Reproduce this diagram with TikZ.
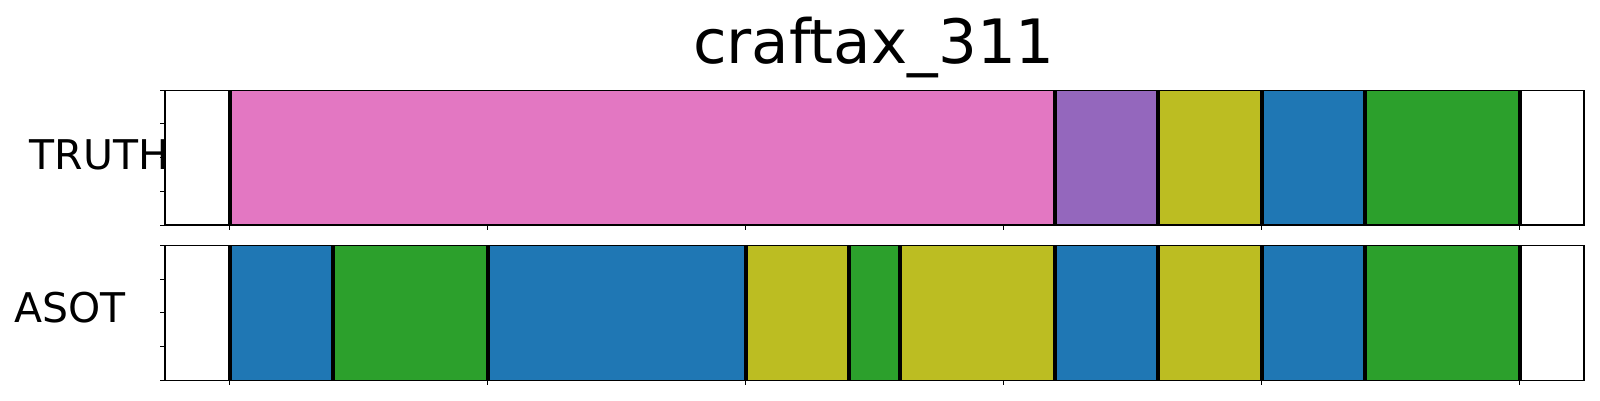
\documentclass[tikz,border=0pt]{standalone}
\usepackage{fontspec}
\setmainfont{DejaVu Sans}
\usepackage{tikz}

\begin{document}
\begin{tikzpicture}[every node/.style={inner sep=0pt},
    spine/.style={black, line width=0.015cm},
    tickmark/.style={black, line width=0.01cm},
    segedge/.style={black, line width=0.04cm}]
  % Colors
  \definecolor{segpink}{HTML}{E377C2}
  \definecolor{segpurple}{HTML}{9467BD}
  \definecolor{segolive}{HTML}{BCBD22}
  \definecolor{segblue}{HTML}{1F77B4}
  \definecolor{seggreen}{HTML}{2CA02C}

  \useasboundingbox (0,0) rectangle (16,4);

  % Title
  \node[anchor=base, font=\fontsize{17.4}{20}\selectfont] (title) at (8.74,3.37) {craftax\_311};

  % Row labels
  \node[anchor=base west, font=\fontsize{11.65}{14}\selectfont] (truthlabel) at (0.29,2.307) {TRUTH};
  \node[anchor=base west, font=\fontsize{11.65}{14}\selectfont] (asotlabel) at (0.14,0.773) {ASOT};

  % Ground truth segments
  \begin{scope}[xshift=2.295cm, x=0.0258cm]
    \foreach \a/\b/\c in {0/320/segpink, 320/360/segpurple, 360/400/segolive,
                          400/440/segblue, 440/500/seggreen} {
      \fill[\c] (\a,1.75) rectangle (\b,3.097);
    }
    \foreach \a in {0,320,360,400,440,500} {
      \draw[segedge] (\a,1.75) -- (\a,3.097);
    }
    % Axes frame and ticks
    \draw[spine] (-25,1.75) rectangle (525,3.097);
    \foreach \t in {0,100,...,500} {
      \draw[tickmark] (\t,1.75) -- ++(0pt,-0.05cm);
    }
    \foreach \k in {0,...,4} {
      \draw[tickmark] (-25,1.75+\k*0.33675) -- ++(-0.05cm,0pt);
    }
  \end{scope}

  % Predicted segments
  \begin{scope}[xshift=2.295cm, x=0.0258cm]
    \foreach \a/\b/\c in {0/40/segblue, 40/100/seggreen, 100/200/segblue,
                          200/240/segolive, 240/260/seggreen, 260/320/segolive,
                          320/360/segblue, 360/400/segolive, 400/440/segblue,
                          440/500/seggreen} {
      \fill[\c] (\a,0.197) rectangle (\b,1.547);
    }
    \foreach \a in {0,40,100,200,240,260,320,360,400,440,500} {
      \draw[segedge] (\a,0.197) -- (\a,1.547);
    }
    % Axes frame and ticks
    \draw[spine] (-25,0.197) rectangle (525,1.547);
    \foreach \t in {0,100,...,500} {
      \draw[tickmark] (\t,0.197) -- ++(0pt,-0.05cm);
    }
    \foreach \k in {0,...,4} {
      \draw[tickmark] (-25,0.197+\k*0.3375) -- ++(-0.05cm,0pt);
    }
  \end{scope}
\end{tikzpicture}
\end{document}
